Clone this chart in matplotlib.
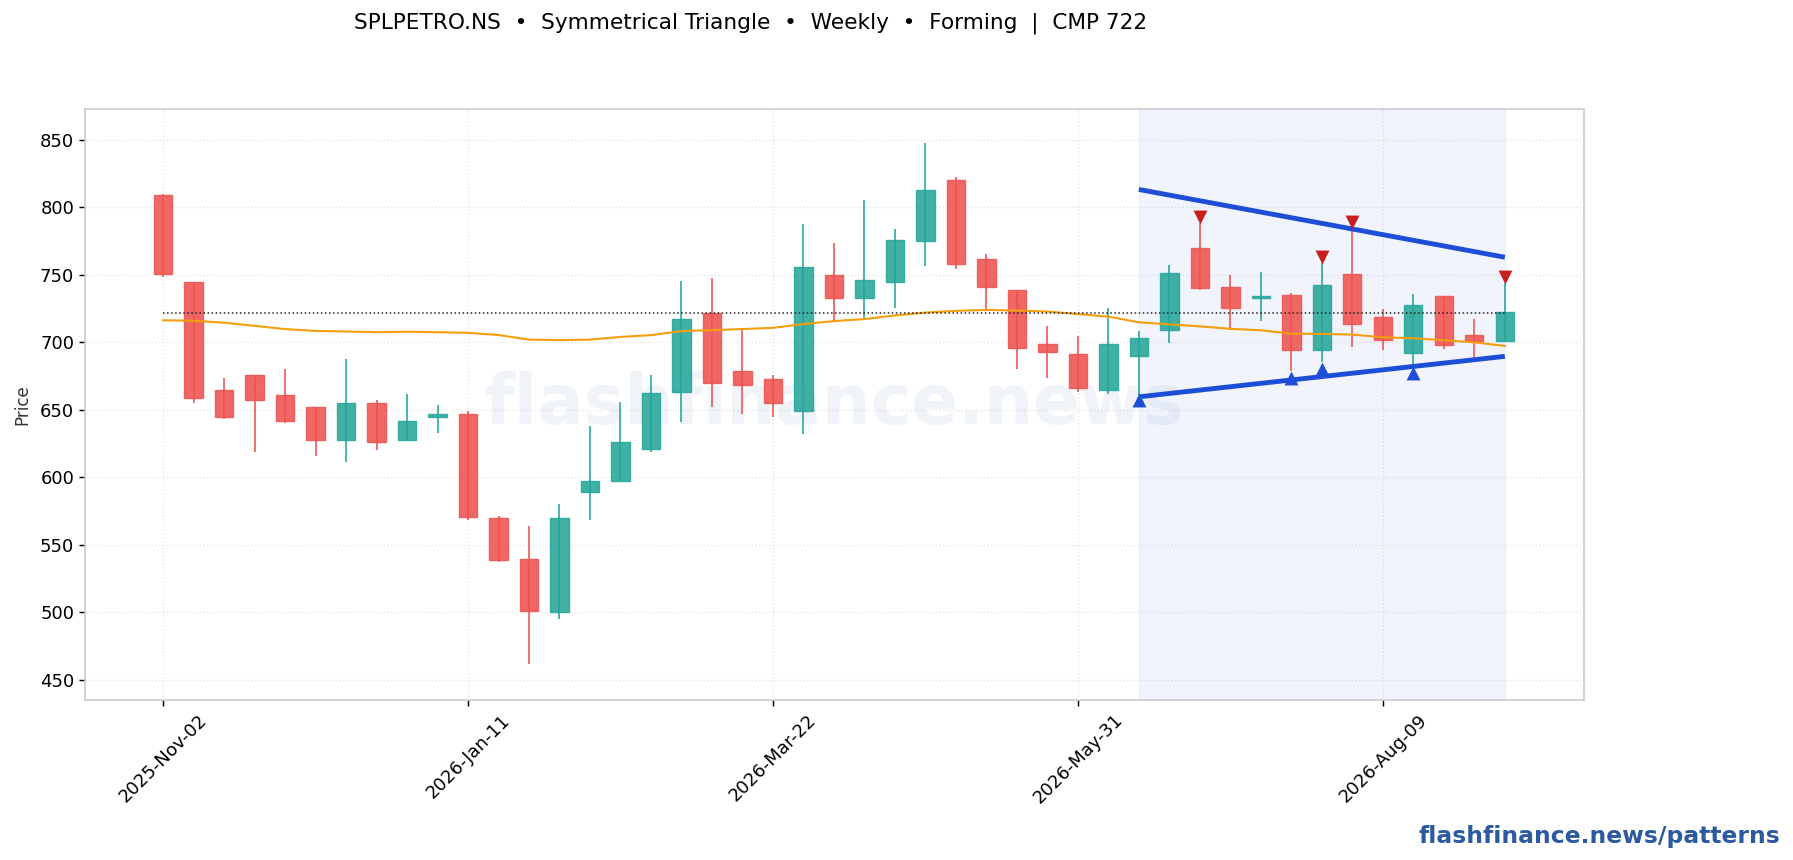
import matplotlib
matplotlib.use("Agg")
import matplotlib.pyplot as plt

tick_dates = ["2025-Nov-02", "2026-Jan-11", "2026-Mar-22", "2026-May-31", "2026-Aug-09"]
tick_idx = [0, 10, 20, 30, 40]
opens = [809, 745, 665, 676, 661, 651.8, 628, 654.7, 628, 644.5, 647, 570, 539.8, 500, 588.8, 597, 620.6, 663.3, 721.6,
         679, 672.5, 648.8, 749.5, 732.5, 745, 775.4, 819.9, 761.4, 738.4, 698.4, 691, 664.3, 690, 709, 769.7, 741, 733,
         735, 694.3, 750.5, 718.7, 692, 734.2, 705.4, 701]
closes = [750.5, 659, 645, 657, 641.5, 628, 654.7, 626.5, 642, 647, 570.8, 539, 501.3, 570, 597.6, 625.8, 662.8, 717.6,
          669.5, 668.5, 654.7, 756, 732.5, 746.5, 776, 813, 757.7, 740.6, 696, 692.5, 665.8, 699, 703.2, 751.2, 740,
          725.4, 734, 694.3, 742.4, 713.5, 701.7, 727.6, 698.3, 701, 722.4]
highs = [810, 745, 673.5, 676, 680, 651.8, 687.5, 657.6, 662, 653.5, 649.4, 571, 564, 580, 637.9, 655.7, 676, 745.3,
         747.5, 709, 676, 787.5, 773.5, 805.3, 783.8, 847.5, 822.3, 765.3, 738.4, 712, 704.6, 725.3, 708.4, 757.4, 788,
         750, 752, 736.7, 758.6, 783, 725, 736, 734.2, 717.5, 744]
lows = [748, 655, 643, 619, 640, 616, 611, 620, 628, 633, 568.5, 537, 462, 495, 568.6, 597, 618.6, 641, 652, 646.8,
        644.6, 632, 716.4, 717.6, 725.3, 756.4, 754.2, 724, 680, 673.5, 663, 661.6, 660, 699.3, 739, 709, 715.5, 679,
        685.7, 696.3, 694, 682, 694.8, 688.7, 701]
ma_line = [716.3, 716, 714.5, 712.2, 709.8, 708.4, 708, 707.5, 707.8, 707.5, 707, 705.4, 702, 701.6, 702, 704, 705.3,
           708.3, 709, 709.8, 710.7, 713.5, 715.7, 717.2, 719.9, 722, 723.3, 724, 723.5, 722.8, 720.9, 719, 714.8,
           713.3, 711.8, 710, 708.9, 706.4, 706.2, 705.7, 703.7, 703, 701.5, 700, 697.3]
cmp_price = 722
pivot_high_idx = [34, 38, 39, 44]
pivot_high_val = [793, 763, 789, 748.5]
pivot_low_idx = [32, 37, 38, 41]
pivot_low_val = [657, 673.6, 680, 677.5]
pattern_idx = [32, 44]
upper_line = [813.2, 763]
lower_line = [659.6, 689.6]

RED = "#ef5350"
GREEN = "#26a69a"
BLUE = "#1d4ed8"

fig = plt.figure(figsize=(17.93, 8.6), dpi=100)
ax = fig.add_axes([85.3 / 1793, 1 - 699.8 / 860, (1583.8 - 85.3) / 1793, (699.8 - 108.6) / 860])

ax.grid(True, linestyle=":", color="#e6e6e6", linewidth=1.0, zorder=0)
ax.set_axisbelow(True)
ax.axvspan(pattern_idx[0], pattern_idx[1], facecolor=BLUE, edgecolor=BLUE, alpha=0.06, linewidth=1, zorder=1)
ax.text(0.5, 0.5, "flashfinance.news", transform=ax.transAxes, ha="center", va="center",
        fontsize=49.4, fontweight="bold", color="#2b5aa0", alpha=0.07, zorder=1)

xs = list(range(len(opens)))
colors = [GREEN if c >= o else RED for o, c in zip(opens, closes)]
ax.vlines(xs, lows, highs, colors=colors, linewidth=1.3, alpha=0.9, zorder=3)
ax.bar(xs, [abs(c - o) for o, c in zip(opens, closes)], bottom=[min(o, c) for o, c in zip(opens, closes)],
       width=0.6, color=colors, edgecolor=colors, linewidth=1.0, alpha=0.88, zorder=4)

ax.plot(xs, ma_line, color="#f59e0b", linewidth=1.5, zorder=5)
ax.plot([xs[0], xs[-1]], [cmp_price, cmp_price], color="#222222", linestyle=":", linewidth=1.1, zorder=5)
ax.plot(pattern_idx, upper_line, color=BLUE, linewidth=3.5, zorder=6, solid_capstyle="butt")
ax.plot(pattern_idx, lower_line, color=BLUE, linewidth=3.5, zorder=6, solid_capstyle="butt")
ax.scatter(pivot_high_idx, pivot_high_val, marker="v", s=100, color="#c81e1e", zorder=7, linewidths=0)
ax.scatter(pivot_low_idx, pivot_low_val, marker="^", s=100, color=BLUE, zorder=7, linewidths=0)

ax.set_xlim(-2.55, 46.59)
ax.set_ylim(435.2, 873.1)
ax.set_yticks(range(450, 851, 50))
ax.set_xticks(tick_idx)
ax.set_xticklabels(tick_dates, rotation=45)
ax.tick_params(axis="both", labelsize=13, length=4.5, width=1.04)
ax.set_ylabel("Price", fontsize=12, color="#333333", labelpad=6)
for s in ax.spines.values():
    s.set_color("#cccccc")
    s.set_linewidth(1.2)

fig.text(354 / 1793, 1 - 23 / 860, "SPLPETRO.NS  •  Symmetrical Triangle  •  Weekly  •  Forming  |  CMP 722",
         fontsize=15.6, ha="left", va="center", color="black")
fig.text(1780 / 1793, 1 - 837 / 860, "flashfinance.news/patterns", fontsize=16.9, fontweight="bold",
         color="#2b5aa0", ha="right", va="center")

fig.savefig("out.png", dpi=100)
